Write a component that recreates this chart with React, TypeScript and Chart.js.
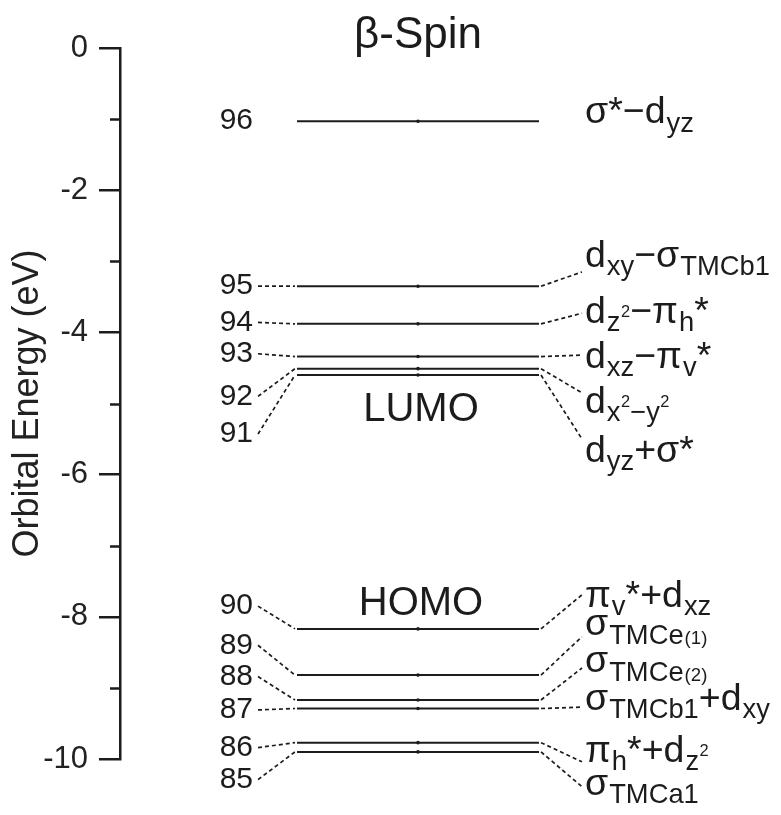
import React, { useEffect, useRef } from "react";
import { Chart, registerables } from "chart.js";

Chart.register(...registerables);

// ---------- data ----------
const ORBITALS = [96, 95, 94, 93, 92, 91, 90, 89, 88, 87, 86, 85];
// orbital energies (eV)
const LEVEL_ENERGY = [-1.03, -3.35, -3.88, -4.34, -4.51, -4.6, -8.17, -8.82, -9.17, -9.29, -9.77, -9.9];
// left number labels: vertical position (eV) where label / connector start sit
const LEFT_LABEL_Y = [-1.03, -3.35, -3.86, -4.3, -4.9, -5.43, -7.85, -8.4, -8.84, -9.31, -9.84, -10.29];
// right character labels: text baseline (eV) and connector end (eV)
const RIGHT_LABEL_Y = [-1.06, -3.08, -3.87, -4.5, -5.13, -5.82, -7.86, -8.26, -8.78, -9.31, -10.04, -10.5];
const RIGHT_LINK_Y: (number | null)[] = [null, -3.15, -3.73, -4.32, -4.85, -5.5, -7.69, -8.28, -8.72, -9.27, -10.04, -10.39];
const RIGHT_LABELS = [
  "σ*−d_{yz}",
  "d_{xy}−σ_{TMCb1}",
  "d_{z^{2}}−π_{h}*",
  "d_{xz}−π_{v}*",
  "d_{x^{2}−y^{2}}",
  "d_{yz}+σ*",
  "π_{v}*+d_{xz}",
  "σ_{TMCe~{(1)}}",
  "σ_{TMCe~{(2)}}",
  "σ_{TMCb1}+d_{xy}",
  "π_{h}*+d_{z^{2}}",
  "σ_{TMCa1}",
];
const FRONTIER_LABELS = ["LUMO", "HOMO"];
const FRONTIER_Y = [-5.09, -7.82];
const Y_MIN = -10;
const Y_MAX = 0;
const TITLE = "β-Spin";
const TITLE_Y = 0.0;
const Y_TITLE = "Orbital Energy (eV)";

// ---------- layout (x in hidden-scale units) ----------
const X_MIN = 120;
const X_MAX = 773;
const LEVEL_X0 = 297;
const LEVEL_XC = 418;
const LEVEL_X1 = 539;
const LEFT_TEXT_X = 253;
const LEFT_LINK_X0 = 258;
const LEFT_LINK_X1 = 295;
const RIGHT_LINK_X0 = 541;
const RIGHT_LINK_X1 = 582;
const RIGHT_TEXT_X = 585;
const FONT = "'Liberation Sans', Arial, sans-serif";
const INK = "#1c1c1c";

type RNode = { t: string } | { k: string; c: RNode[] };

function parseRich(s: string, start = 0): [RNode[], number] {
  const out: RNode[] = [];
  let buf = "";
  let i = start;
  while (i < s.length) {
    const ch = s[i];
    if (ch === "}") {
      if (buf) out.push({ t: buf });
      return [out, i + 1];
    }
    if ((ch === "_" || ch === "^" || ch === "~") && s[i + 1] === "{") {
      if (buf) {
        out.push({ t: buf });
        buf = "";
      }
      const [c, j] = parseRich(s, i + 2);
      out.push({ k: ch, c });
      i = j;
      continue;
    }
    buf += ch;
    i++;
  }
  if (buf) out.push({ t: buf });
  return [out, i];
}

function drawRich(ctx: CanvasRenderingContext2D, nodes: RNode[], x: number, y: number, size: number): number {
  for (const n of nodes) {
    if ("t" in n) {
      ctx.font = `${size}px ${FONT}`;
      ctx.fillText(n.t, x, y);
      x += ctx.measureText(n.t).width;
    } else if (n.k === "_") {
      x = drawRich(ctx, n.c, x + 1, y + size * 0.22, size * 0.73);
    } else if (n.k === "^") {
      x = drawRich(ctx, n.c, x + 0.5, y - size * 0.52, size * 0.6);
    } else {
      x = drawRich(ctx, n.c, x + 1, y, size * 0.68);
    }
  }
  return x;
}

const textPlugin = {
  id: "orbitalText",
  afterDraw(chart: any) {
    const ctx: CanvasRenderingContext2D = chart.ctx;
    const xs = chart.scales.x;
    const ys = chart.scales.y;
    const px = (v: number) => xs.getPixelForValue(v);
    const py = (v: number) => ys.getPixelForValue(v);
    ctx.save();
    ctx.fillStyle = INK;
    ctx.strokeStyle = INK;

    // minor ticks
    const axisX = chart.chartArea.left;
    ctx.lineWidth = 2.5;
    for (let v = Y_MIN + 1; v < Y_MAX; v += 2) {
      const y = Math.round(py(v)) + 0.5;
      ctx.beginPath();
      ctx.moveTo(axisX - 10, y);
      ctx.lineTo(axisX, y);
      ctx.stroke();
    }

    // title
    ctx.textAlign = "center";
    ctx.textBaseline = "alphabetic";
    ctx.font = `44px ${FONT}`;
    ctx.fillText(TITLE, px(LEVEL_XC), py(TITLE_Y));

    // LUMO / HOMO
    ctx.textBaseline = "middle";
    ctx.font = `40px ${FONT}`;
    FRONTIER_LABELS.forEach((t, i) => ctx.fillText(t, px(LEVEL_XC + 3), py(FRONTIER_Y[i])));

    // left numbers
    ctx.textAlign = "right";
    ctx.font = `30px ${FONT}`;
    ORBITALS.forEach((o, i) => ctx.fillText(String(o), px(LEFT_TEXT_X), py(LEFT_LABEL_Y[i])));

    // right labels
    ctx.textAlign = "left";
    ctx.textBaseline = "alphabetic";
    RIGHT_LABELS.forEach((s, i) => {
      const [nodes] = parseRich(s);
      drawRich(ctx, nodes, px(RIGHT_TEXT_X), py(RIGHT_LABEL_Y[i]), 37.5);
    });
    ctx.restore();
  },
};

export default function App() {
  const ref = useRef<HTMLCanvasElement>(null);

  useEffect(() => {
    if (!ref.current) return;
    const datasets: any[] = [];
    ORBITALS.forEach((o, i) => {
      const e = LEVEL_ENERGY[i];
      datasets.push({
        label: `level ${o}`,
        data: [
          { x: LEVEL_X0, y: e },
          { x: LEVEL_XC, y: e },
          { x: LEVEL_X1, y: e },
        ],
        showLine: true,
        borderColor: INK,
        borderWidth: 2,
        pointRadius: [0, 1.8, 0],
        pointBackgroundColor: INK,
        pointBorderWidth: 0,
        clip: false,
      });
      if (i > 0) {
        datasets.push({
          label: `left link ${o}`,
          data: [
            { x: LEFT_LINK_X0, y: LEFT_LABEL_Y[i] },
            { x: LEFT_LINK_X1, y: e },
          ],
          showLine: true,
          borderColor: INK,
          borderWidth: 1.7,
          borderDash: [4, 3],
          pointRadius: 0,
          clip: false,
        });
      }
      const ry = RIGHT_LINK_Y[i];
      if (ry !== null) {
        datasets.push({
          label: `right link ${o}`,
          data: [
            { x: RIGHT_LINK_X0, y: e },
            { x: RIGHT_LINK_X1, y: ry },
          ],
          showLine: true,
          borderColor: INK,
          borderWidth: 1.7,
          borderDash: [4, 3],
          pointRadius: 0,
          clip: false,
        });
      }
    });

    const chart = new Chart(ref.current, {
      type: "scatter",
      data: { datasets },
      options: {
        responsive: false,
        animation: false,
        events: [],
        layout: { padding: { top: 40, bottom: 48, left: 0, right: 0 } },
        plugins: { legend: { display: false }, title: { display: false }, tooltip: { enabled: false } },
        scales: {
          x: { type: "linear", min: X_MIN, max: X_MAX, display: false },
          y: {
            type: "linear",
            min: Y_MIN,
            max: Y_MAX,
            afterFit: (s: any) => {
              s.width = 112;
            },
            border: { display: true, color: INK, width: 2.5 },
            grid: {
              drawOnChartArea: false,
              drawTicks: true,
              tickLength: 21,
              lineWidth: 2.5,
              color: (c: any) => (c.tick && Math.round(c.tick.value) % 2 === 0 ? INK : "rgba(0,0,0,0)"),
            },
            ticks: {
              stepSize: 1,
              padding: 11,
              color: "#222",
              font: { family: FONT, size: 31 },
              callback: (v: any) => (Math.round(v) % 2 === 0 ? String(Math.round(v)) : ""),
            },
            title: {
              display: true,
              text: Y_TITLE,
              color: "#222",
              font: { family: FONT, size: 36, lineHeight: 1.1 },
              padding: { top: 0, bottom: 0 },
            },
          },
        },
      },
      plugins: [textPlugin],
    });
    return () => chart.destroy();
  }, []);

  return (
    <div style={{ width: 765, height: 799 }}>
      <canvas ref={ref} width={765} height={799} style={{ display: "block" }} />
    </div>
  );
}
